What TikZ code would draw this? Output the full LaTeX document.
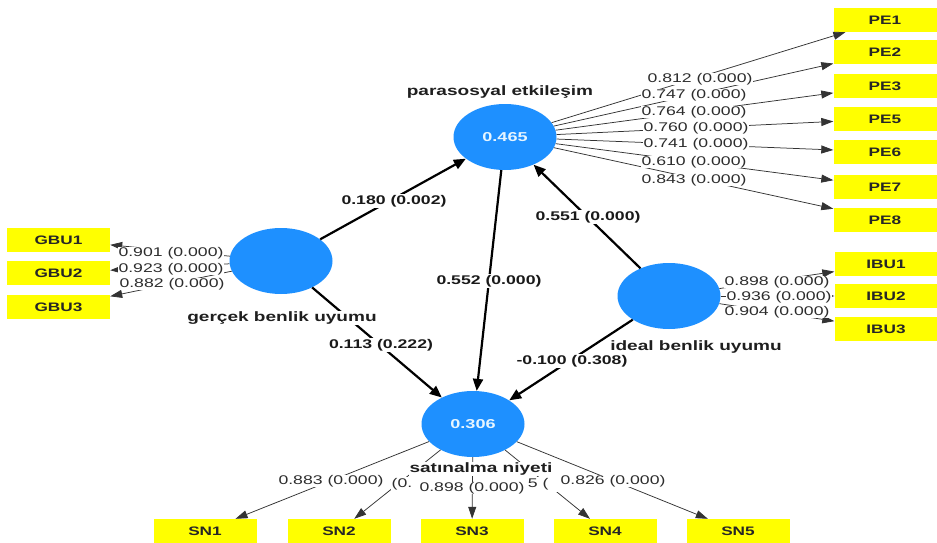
\documentclass[tikz,border=0pt]{standalone}
\usepackage{fontspec}
\newfontfamily\lf[FakeStretch=1.4]{Liberation Sans}
\usetikzlibrary{shapes.geometric,arrows.meta}
\definecolor{cblue}{RGB}{30,144,255}
\definecolor{cyel}{RGB}{255,255,0}
\definecolor{ctxt}{RGB}{45,45,45}
\definecolor{cval}{RGB}{230,245,255}
\begin{document}
\begin{tikzpicture}[x=1pt,y=-1pt,
 lv/.style={ellipse, fill=cblue, minimum width=103pt, minimum height=66pt, inner sep=0pt, text=cval, font=\lf\bfseries\fontsize{12.9}{14}\selectfont},
 ind/.style={rectangle, fill=cyel, minimum width=103pt, minimum height=24pt, inner sep=0pt, font=\lf\bfseries\fontsize{12.3}{13}\selectfont, text=black!85},
 strpath/.style={draw=black, line width=2.2pt, -{Triangle[length=12pt,width=10pt]}},
 loadpath/.style={draw=black!80, line width=0.75pt, -{Triangle[length=12pt,width=8pt]}},
 slab/.style={fill=white, inner sep=1pt, text=black!90, font=\lf\bfseries\fontsize{12.6}{14}\selectfont},
 llab/.style={fill=white, inner sep=0.6pt, text=ctxt, font=\lf\fontsize{12.6}{14}\selectfont},
 nlab/.style={fill=white, inner sep=0.6pt, text=black!88, font=\lf\bfseries\fontsize{13.6}{15}\selectfont},
]
\useasboundingbox[fill=white] (0,0) rectangle (937,543);

% latent variables
\node[lv] (pe) at (505,137) {0.465};
\node[lv] (gb) at (281,261) {};
\node[lv] (ib) at (669,296) {};
\node[lv] (sn) at (473,424) {0.306};

% indicators
\foreach \n/\y in {PE1/20,PE2/52,PE3/86,PE5/119,PE6/152,PE7/187,PE8/220}
  \node[ind] (\n) at (885,\y) {\n};
\foreach \n/\y in {GBU1/240,GBU2/273,GBU3/307}
  \node[ind] (\n) at (58.5,\y) {\n};
\foreach \n/\y in {IBU1/264,IBU2/296,IBU3/329}
  \node[ind] (\n) at (886,\y) {\n};
\foreach \n/\x in {SN1/205,SN2/339,SN3/472,SN4/605,SN5/738}
  \node[ind] (\n) at (\x,531) {\n};

% loadings
\foreach \n in {PE1,PE2,PE3,PE5,PE6,PE7,PE8} \draw[loadpath] (pe) -- (\n);
\foreach \n in {GBU1,GBU2,GBU3} \draw[loadpath] (gb) -- (\n);
\foreach \n in {IBU1,IBU2,IBU3} \draw[loadpath] (ib) -- (\n);
\foreach \n in {SN1,SN2,SN3,SN4,SN5} \draw[loadpath] (sn) -- (\n);

% structural paths
\draw[strpath] (gb) -- (pe);
\draw[strpath] (pe) -- (sn);
\draw[strpath] (ib) -- (pe);
\draw[strpath] (gb) -- (sn);
\draw[strpath] (ib) -- (sn);

% names
\node[nlab] (npe) at (500,92) {parasosyal etkileşim};
\node[nlab] (ngb) at (282,318) {gerçek benlik uyumu};
\node[nlab] (nib) at (696,347) {ideal benlik uyumu};
\node[nlab] (nsn) at (481,469) {satınalma niyeti};

% structural labels
\node[slab] (s1) at (394,201) {0.180 (0.002)};
\node[slab] (s2) at (489,281) {0.552 (0.000)};
\node[slab] (s3) at (588,217) {0.551 (0.000)};
\node[slab] (s4) at (381,345) {0.113 (0.222)};
\node[slab] (s5) at (572,361) {-0.100 (0.308)};

% loading labels
\node[llab] (l1) at (700,79) {0.812 (0.000)};
\node[llab] (l2) at (694,95) {0.747 (0.000)};
\node[llab] (l3) at (694,112) {0.764 (0.000)};
\node[llab] (l5) at (696,128) {0.760 (0.000)};
\node[llab] (l6) at (696,144) {0.741 (0.000)};
\node[llab] (l7) at (694,162) {0.610 (0.000)};
\node[llab] (l8) at (694,180) {0.843 (0.000)};

\node[llab] (g1) at (171,253) {0.901 (0.000)};
\node[llab] (g2) at (171,269) {0.923 (0.000)};
\node[llab] (g3) at (172,284) {0.882 (0.000)};

\node[llab] (i1) at (777,282) {0.898 (0.000)};
\node[llab] (i2) at (779,297) {0.936 (0.000)};
\node[llab] (i3) at (777,312) {0.904 (0.000)};

\node[llab, minimum height=15pt] (t2) at (402,484) {(0.};
\node[llab, minimum height=15pt, minimum width=26pt] (t4) at (543,484) {5 (\phantom{0}};
\node[llab] (t1) at (331,481) {0.883 (0.000)};
\node[llab] (t3) at (472,488) {0.898 (0.000)};
\node[llab] (t5) at (613,481) {0.826 (0.000)};
\end{tikzpicture}
\end{document}
